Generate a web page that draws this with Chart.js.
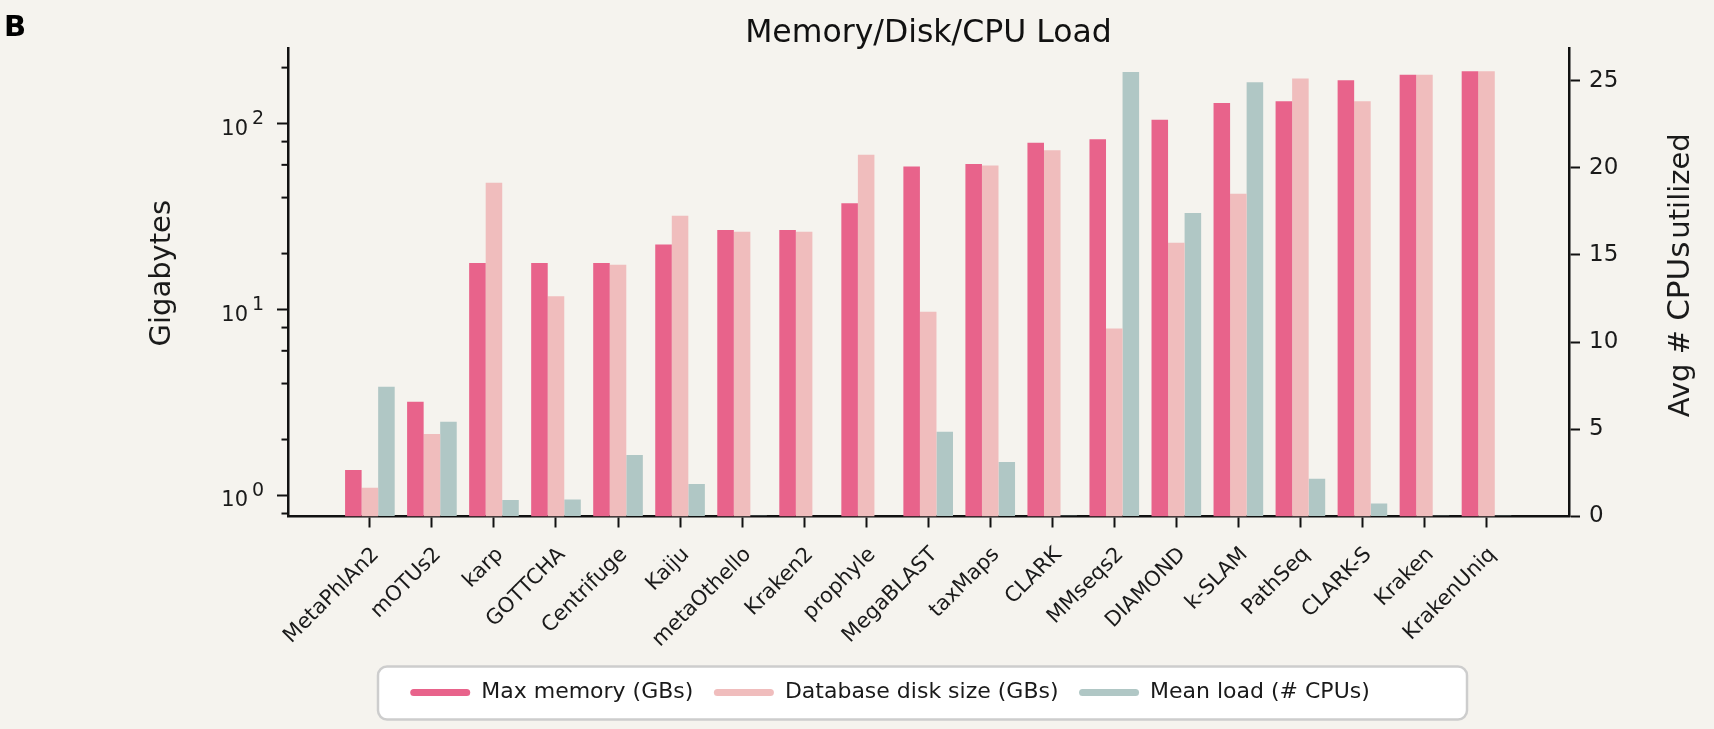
<!DOCTYPE html>
<html>
<head>
<meta charset="utf-8">
<script src="https://cdn.jsdelivr.net/npm/chart.js@4.4.1/dist/chart.umd.min.js"></script>
<style>
  html, body { margin: 0; padding: 0; background: #f5f3ee; }
  #wrap { width: 1714px; height: 729px; }
  canvas { display: block; }
</style>
</head>
<body>
<div id="wrap"><canvas id="c" width="1714" height="729"></canvas></div>
<script>
// ---------------- data ----------------
const categories = ['MetaPhlAn2', 'mOTUs2', 'karp', 'GOTTCHA', 'Centrifuge', 'Kaiju', 'metaOthello', 'Kraken2', 'prophyle', 'MegaBLAST', 'taxMaps', 'CLARK', 'MMseqs2', 'DIAMOND', 'k-SLAM', 'PathSeq', 'CLARK-S', 'Kraken', 'KrakenUniq'];
const maxMemory = [1.37, 3.19, 17.8, 17.8, 17.8, 22.4, 26.8, 26.8, 37.3, 58.7, 60.7, 79, 82.4, 105, 129, 132, 171, 183, 191];
const diskSize  = [1.10, 2.14, 48, 11.8, 17.4, 31.9, 26.2, 26.2, 67.9, 9.72, 59.5, 71.8, 7.9, 22.9, 42, 175, 132, 183, 191];
const meanLoad  = [7.44, 5.44, 0.94, 0.97, 3.53, 1.87, 0.05, 0, 0, 4.86, 3.13, 0.05, 25.5, 17.4, 24.9, 2.17, 0.74, 0.05, 0.05];
const seriesNames = ['Max memory (GBs)', 'Database disk size (GBs)', 'Mean load (# CPUs)'];
const leftTickValues = [0.8, 1, 2, 4, 6, 8, 10, 20, 40, 60, 80, 100, 200];
const leftMajorTicks = [1, 10, 100];
const leftMajorBase = '10';
const leftMajorExponents = ['0', '1', '2'];
const rightTickValues = [0, 5, 10, 15, 20, 25];
const chartTitle = 'Memory/Disk/CPU Load';
const leftAxisTitle = 'Gigabytes';
const rightAxisTitleParts = ['Avg # ', 'CPUs', 'utilized'];
const panelLetter = 'B';

// ---------------- style ----------------
const FONT = "'DejaVu Sans', 'Liberation Sans', sans-serif";
const INK = '#111111';
const TXT = '#1a1a1a';
const BG = '#f5f3ee';
const COLORS = ['#e8638b', '#f0bdbd', '#b0c7c5'];

const isMajor = v => leftMajorTicks.includes(v);

function roundRectPath(ctx, x, y, w, h, r) {
  ctx.beginPath();
  ctx.moveTo(x + r, y);
  ctx.lineTo(x + w - r, y);
  ctx.arcTo(x + w, y, x + w, y + r, r);
  ctx.lineTo(x + w, y + h - r);
  ctx.arcTo(x + w, y + h, x + w - r, y + h, r);
  ctx.lineTo(x + r, y + h);
  ctx.arcTo(x, y + h, x, y + h - r, r);
  ctx.lineTo(x, y + r);
  ctx.arcTo(x, y, x + r, y, r);
  ctx.closePath();
}

const decor = {
  id: 'decor',
  beforeDraw(chart) {
    const { ctx, chartArea: ca, legend } = chart;
    ctx.save();
    ctx.fillStyle = BG;
    ctx.fillRect(0, 0, chart.width, chart.height);
    // legend frame
    const x0 = ca.left + 90, x1 = ca.right - 102;
    const y0 = legend.top + 5.5, h = 53;
    roundRectPath(ctx, x0, y0, x1 - x0, h, 9);
    ctx.fillStyle = '#ffffff';
    ctx.fill();
    ctx.lineWidth = 2.5;
    ctx.strokeStyle = '#cdcdcd';
    ctx.stroke();
    ctx.restore();
  },
  afterDraw(chart) {
    const { ctx, chartArea: ca } = chart;
    const ys = chart.scales.y;
    ctx.save();
    // minor ticks on the log axis
    ctx.strokeStyle = INK;
    ctx.lineWidth = 2;
    leftTickValues.forEach(v => {
      if (isMajor(v)) return;
      const py = ys.getPixelForValue(v);
      ctx.beginPath();
      ctx.moveTo(ca.left - 6.5, py);
      ctx.lineTo(ca.left, py);
      ctx.stroke();
    });
    // major labels 10^n
    ctx.fillStyle = TXT;
    ctx.textBaseline = 'alphabetic';
    leftMajorTicks.forEach((v, i) => {
      const py = ys.getPixelForValue(v);
      ctx.font = `21px ${FONT}`;
      ctx.textAlign = 'right';
      ctx.fillText(leftMajorBase, ca.left - 40, py + 11);
      ctx.font = `19px ${FONT}`;
      ctx.textAlign = 'left';
      ctx.fillText(leftMajorExponents[i], ca.left - 36, py + 0.5);
    });
    const midY = (ca.top + ca.bottom) / 2;
    // left axis title
    ctx.save();
    ctx.translate(ca.left - 126, midY - 9);
    ctx.rotate(-Math.PI / 2);
    ctx.font = `29px ${FONT}`;
    ctx.textAlign = 'center';
    ctx.textBaseline = 'middle';
    ctx.fillText(leftAxisTitle, 0, 0);
    ctx.restore();
    // right axis title (reads bottom to top)
    ctx.textBaseline = 'alphabetic';
    const fonts = [`29px ${FONT}`, `31px ${FONT}`, `29px ${FONT}`];
    const gaps = [0, 3, 0];
    let total = 0;
    const widths = rightAxisTitleParts.map((t, i) => { ctx.font = fonts[i]; const w = ctx.measureText(t).width; total += w + gaps[i]; return w; });
    ctx.translate(ca.right + 120, midY - 7 + total / 2);
    ctx.rotate(-Math.PI / 2);
    ctx.textAlign = 'left';
    let x = 0;
    rightAxisTitleParts.forEach((t, i) => {
      ctx.font = fonts[i];
      ctx.fillText(t, x, 0);
      x += widths[i] + gaps[i];
    });
    ctx.setTransform(1, 0, 0, 1, 0, 0);
    // panel letter
    ctx.font = `bold 29px ${FONT}`;
    ctx.fillStyle = '#000';
    ctx.textAlign = 'left';
    ctx.fillText(panelLetter, 4, 36);
    ctx.restore();
  }
};

const toPoints = arr => arr.map((v, i) => ({ x: i, y: v }));

new Chart(document.getElementById('c'), {
  type: 'bar',
  data: {
    datasets: [
      { label: seriesNames[0], data: toPoints(maxMemory), yAxisID: 'y', backgroundColor: COLORS[0] },
      { label: seriesNames[1], data: toPoints(diskSize), yAxisID: 'y', backgroundColor: COLORS[1] },
      { label: seriesNames[2], data: toPoints(meanLoad), yAxisID: 'y1', backgroundColor: COLORS[2] }
    ]
  },
  options: {
    responsive: false,
    animation: false,
    devicePixelRatio: 1,
    categoryPercentage: 0.8,
    barPercentage: 1.0,
    borderWidth: 0,
    layout: { padding: { left: 66, right: 0, top: 0, bottom: 15.5 } },
    plugins: {
      tooltip: { enabled: false },
      title: {
        display: true, text: chartTitle, fullSize: false,
        font: { family: FONT, size: 31.5, weight: 'normal', lineHeight: 1 }, color: INK,
        padding: { top: 18, bottom: -1.5 }
      },
      legend: {
        position: 'bottom', align: 'center', fullSize: true,
        labels: {
          font: { family: FONT, size: 22 }, color: TXT,
          boxWidth: 60, boxHeight: 7, padding: 20.5,
          useBorderRadius: true, borderRadius: 3.5
        }
      }
    },
    scales: {
      x: {
        type: 'linear', min: -1.32, max: 19.33, offset: false,
        grid: { display: true, drawOnChartArea: false, offset: false, tickLength: 11, tickWidth: 2, tickColor: INK },
        border: { display: true, color: INK, width: 2.5 },
        afterBuildTicks: s => { s.ticks = categories.map((_, i) => ({ value: i })); },
        afterFit: s => { s.height = 144.5; },
        ticks: {
          autoSkip: false, minRotation: 45, maxRotation: 45, padding: 15, labelOffset: 6,
          font: { family: FONT, size: 21 }, color: TXT,
          callback: v => (categories[v] !== undefined ? categories[v] : '')
        }
      },
      y: {
        type: 'logarithmic', position: 'left', min: 0.771, max: 255,
        grid: { display: true, drawOnChartArea: false, tickLength: 11, tickWidth: 2,
                tickColor: c => (c.tick && isMajor(c.tick.value) ? INK : 'rgba(0,0,0,0)') },
        border: { display: true, color: INK, width: 2.5 },
        afterBuildTicks: s => { s.ticks = leftTickValues.map(v => ({ value: v, major: isMajor(v) })); },
        afterFit: s => { s.width = 222; },
        ticks: { autoSkip: false, callback: () => '', font: { family: FONT, size: 10 } },
        title: { display: false, text: leftAxisTitle }
      },
      y1: {
        type: 'linear', position: 'right', min: 0, max: 26.87,
        grid: { display: true, drawOnChartArea: false, tickLength: 11, tickWidth: 2, tickColor: INK },
        border: { display: true, color: INK, width: 2.5 },
        afterBuildTicks: s => { s.ticks = rightTickValues.map(v => ({ value: v })); },
        afterFit: s => { s.width = 145; },
        ticks: { autoSkip: false, padding: 9, font: { family: FONT, size: 23 }, color: TXT }
      }
    }
  },
  plugins: [decor]
});
</script>
</body>
</html>
